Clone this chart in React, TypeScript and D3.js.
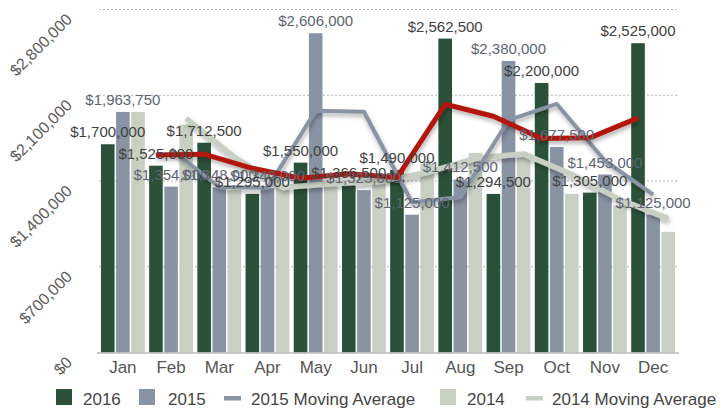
import React from "react";
import * as d3 from "d3";

const months = ["Jan", "Feb", "Mar", "Apr", "May", "Jun", "Jul", "Aug", "Sep", "Oct", "Nov", "Dec"];
const sales2016 = [1700000, 1525000, 1712500, 1295000, 1550000, 1366500, 1490000, 2562500, 1294500, 2200000, 1305000, 2525000];
const sales2015 = [1963750, 1354000, 1348000, 1340000, 2606000, 1325000, 1125000, 1412500, 2380000, 1677500, 1453000, 1125000];
const sales2014 = [1963750, 1860000, 1330000, 1365000, 1390000, 1400000, 1540000, 1630000, 1612500, 1295000, 1200000, 985000];
const movingAvg2016 = [null, 1612500, 1618750, 1503750, 1422500, 1458250, 1428250, 2026250, 1928500, 1747250, 1752500, 1915000];
const movingAvg2015 = [null, 1658875, 1351000, 1344000, 1973000, 1965500, 1225000, 1268750, 1896250, 2028750, 1565250, 1289000];
const movingAvg2014 = [null, 1911875, 1595000, 1347500, 1377500, 1395000, 1470000, 1585000, 1621250, 1453750, 1247500, 1092500];
const yTicks = [0, 700000, 1400000, 2100000, 2800000];
const seriesKeys = ["2016", "2015", "2014"];

const COL_2016 = "#2b513a";
const COL_2015 = "#8893a3";
const COL_2014 = "#c8d0c4";
const COL_RED = "#b3160f";
const FONT = "'Liberation Sans', Arial, Helvetica, sans-serif";

export default function App() {
  const W = 721, H = 412;
  const x0 = d3.scaleBand<string>().domain(months).range([99, 677]).paddingInner(0.09).paddingOuter(0.04);
  const x1 = d3.scaleBand<string>().domain(seriesKeys).range([0, x0.bandwidth()]).paddingInner(0.1);
  const y = d3.scaleLinear().domain([0, 2800000]).range([352.5, 9.5]);
  const fmt = (v: number) => "$" + d3.format(",")(v);

  const seriesVals: Record<string, number[]> = { "2016": sales2016, "2015": sales2015, "2014": sales2014 };
  const seriesCol: Record<string, string> = { "2016": COL_2016, "2015": COL_2015, "2014": COL_2014 };
  const cx = (m: string, k: string) => (x0(m) as number) + (x1(k) as number) + x1.bandwidth() / 2;

  const mkLine = (key: string, vals: (number | null)[]) =>
    d3.line<number | null>()
      .defined((d) => d !== null)
      .x((_, i) => cx(months[i], key))
      .y((d) => y(d as number))(vals) || "";

  return (
    <svg width={W} height={H} style={{ position: "absolute", left: 0, top: 0, background: "#fff" }} fontFamily={FONT}>
      <defs>
        <filter id="shadow" x="-10%" y="-30%" width="120%" height="160%">
          <feDropShadow dx="1" dy="3" stdDeviation="2" floodColor="#000" floodOpacity="0.3" />
        </filter>
      </defs>
      {yTicks.filter((t) => t > 0).map((t) => (
        <line key={t} x1={99} x2={677} y1={y(t)} y2={y(t)} stroke="#b5b5b5" strokeDasharray="2,2" strokeWidth={1} />
      ))}
      {yTicks.map((t) => (
        <text key={t} transform={`translate(73,${y(t) + 11}) rotate(-45)`} textAnchor="end" fontSize={16} fill="#5a5a5a">
          {fmt(t)}
        </text>
      ))}
      {months.map((m, i) => (
        <g key={m}>
          {seriesKeys.map((k) => {
            const v = seriesVals[k][i];
            return (
              <rect key={k} x={(x0(m) as number) + (x1(k) as number)} y={y(v)} width={x1.bandwidth()} height={y(0) - y(v)} fill={seriesCol[k]} />
            );
          })}
        </g>
      ))}
      <line x1={97} x2={679} y1={y(0) + 0.5} y2={y(0) + 0.5} stroke="#b8b8b8" strokeWidth={1.5} />
      <path d={mkLine("2014", movingAvg2014)} fill="none" stroke={COL_2014} strokeWidth={5.5} strokeLinejoin="round" filter="url(#shadow)" />
      <path d={mkLine("2015", movingAvg2015)} fill="none" stroke={COL_2015} strokeWidth={4} strokeLinejoin="round" filter="url(#shadow)" />
      <path d={mkLine("2016", movingAvg2016)} fill="none" stroke={COL_RED} strokeWidth={5} strokeLinejoin="round" filter="url(#shadow)" />
      {months.map((m, i) => (
        <g key={"l" + m} fontSize={15} textAnchor="middle">
          <text x={cx(m, "2015")} y={y(sales2015[i]) - 7} fill="#5d6573">{fmt(sales2015[i])}</text>
          <text x={cx(m, "2016")} y={y(sales2016[i]) - 7} fill="#414141">{fmt(sales2016[i])}</text>
        </g>
      ))}
      {months.map((m) => (
        <text key={"m" + m} x={(x0(m) as number) + x0.bandwidth() / 2} y={373} textAnchor="middle" fontSize={17} fill="#555">
          {m}
        </text>
      ))}
      <g fontSize={17} fill="#444">
        <rect x={56} y={389} width={16} height={16} fill={COL_2016} />
        <text x={83} y={405}>2016</text>
        <rect x={139} y={389} width={16} height={16} fill={COL_2015} />
        <text x={168} y={405}>2015</text>
        <rect x={224} y={396} width={17} height={4.5} fill={COL_2015} />
        <text x={251} y={405}>2015 Moving Average</text>
        <rect x={440} y={389} width={16} height={16} fill={COL_2014} />
        <text x={467} y={405}>2014</text>
        <rect x={526} y={396} width={17} height={4.5} fill={COL_2014} />
        <text x={552} y={405}>2014 Moving Average</text>
      </g>
    </svg>
  );
}
